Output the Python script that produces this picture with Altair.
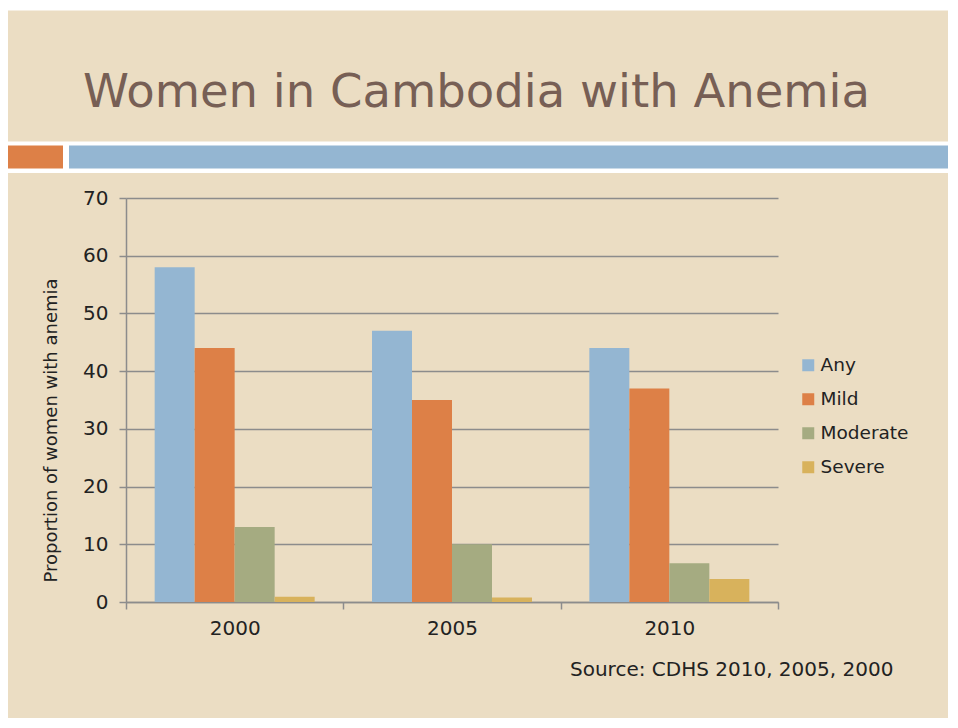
import altair as alt
import pandas as pd

years = ["2000", "2005", "2010"]
categories = ["Any", "Mild", "Moderate", "Severe"]
any_vals = [58, 47, 44]
mild_vals = [44, 35, 37]
moderate_vals = [13, 10, 6.7]
severe_vals = [0.9, 0.8, 4]
colors = ["#94B6D2", "#DD8047", "#A5AB81", "#D8B25C"]

title_text = "Women in Cambodia with Anemia"
source_text = "Source: CDHS 2010, 2005, 2000"
y_title = "Proportion of women with anemia"

rows = []
for cat, vals in zip(categories, [any_vals, mild_vals, moderate_vals, severe_vals]):
    for yr, v in zip(years, vals):
        rows.append({"year": yr, "category": cat, "value": v})
df = pd.DataFrame(rows)

W, H = 652, 404
BG = "#EBDDC3"
FONT = "DejaVu Sans"
GRID = "#8C8C8C"
TXT = "#222222"

bars = alt.Chart(df).mark_bar().encode(
    x=alt.X("year:N", sort=years,
            scale=alt.Scale(paddingInner=0, paddingOuter=0),
            axis=alt.Axis(title=None, labelAngle=0, tickBand="extent", tickSize=7,
                          labelPadding=9, labelFontSize=20, labelFont=FONT,
                          labelColor=TXT, domainColor=GRID, tickColor=GRID,
                          domainWidth=1.5, tickWidth=1.5, grid=False)),
    xOffset=alt.XOffset("category:N", sort=categories,
                        scale=alt.Scale(paddingInner=0, paddingOuter=0.717)),
    y=alt.Y("value:Q", scale=alt.Scale(domain=[0, 70], nice=False),
            axis=alt.Axis(title=y_title, values=[0, 10, 20, 30, 40, 50, 60, 70],
                          tickSize=7, labelPadding=11, labelFontSize=20, labelFont=FONT,
                          labelColor=TXT, domainColor=GRID, tickColor=GRID,
                          gridColor=GRID, gridWidth=1.5, domainWidth=1.5, tickWidth=1.5,
                          titleFont=FONT, titleFontSize=18, titleFontWeight="normal",
                          titleColor=TXT, titleX=-66, titleY=232)),
    color=alt.Color("category:N", sort=categories,
                    scale=alt.Scale(domain=categories, range=colors),
                    legend=alt.Legend(title=None, orient="none", legendX=673, legendY=158,
                                      symbolType="square", symbolSize=144,
                                      symbolStrokeWidth=0, labelFontSize=18.5,
                                      labelFont=FONT, labelColor=TXT,
                                      rowPadding=15, labelOffset=3, padding=0)),
)

one = pd.DataFrame({"k": [0]})

top_white = alt.Chart(one).mark_rect(color="white").encode(
    x=alt.value(-140), x2=alt.value(840), y=alt.value(-191), y2=alt.value(-187.5)
)
white_band = alt.Chart(one).mark_rect(color="white").encode(
    x=alt.value(-140), x2=alt.value(840), y=alt.value(-56.5), y2=alt.value(-25)
)
orange_block = alt.Chart(one).mark_rect(color="#DD8047").encode(
    x=alt.value(-140), x2=alt.value(-63), y=alt.value(-52.5), y2=alt.value(-29.5)
)
blue_bar = alt.Chart(one).mark_rect(color="#94B6D2").encode(
    x=alt.value(-57), x2=alt.value(840), y=alt.value(-52.5), y2=alt.value(-29.5)
)
title = alt.Chart(pd.DataFrame({"t": [title_text]})).mark_text(
    align="left", baseline="alphabetic", font=FONT, fontSize=46.5, color="#775F55"
).encode(x=alt.value(-43), y=alt.value(-91), text="t:N")
source = alt.Chart(pd.DataFrame({"t": [source_text]})).mark_text(
    align="left", baseline="middle", font=FONT, fontSize=20, color=TXT
).encode(x=alt.value(444), y=alt.value(472), text="t:N")

chart = alt.layer(top_white, white_band, orange_block, blue_bar, title, source, bars).properties(
    width=W, height=H,
    background=BG,
    padding={"left": 118, "top": 190, "right": 170, "bottom": 116},
    autosize=alt.AutoSizeParams(type="none"),
).configure_view(strokeWidth=0)

chart.save("out.html", embed_options={"renderer": "svg", "actions": False})
